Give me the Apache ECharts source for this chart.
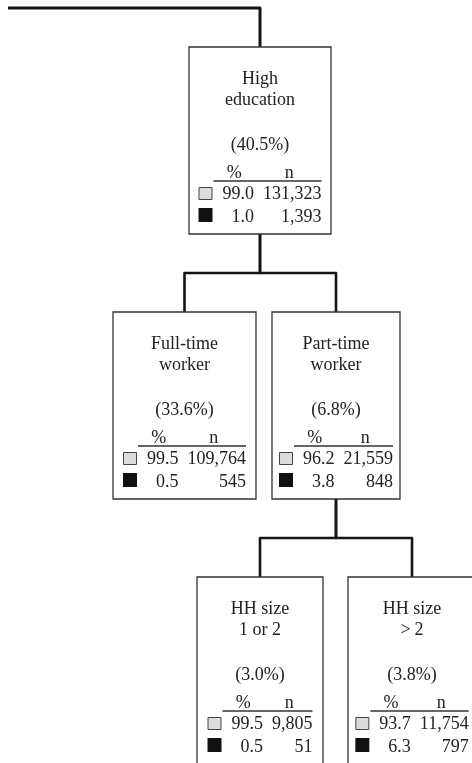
<!DOCTYPE html>
<html>
<head>
<meta charset="utf-8">
<script src="https://cdn.jsdelivr.net/npm/echarts@6/dist/echarts.min.js"></script>
<style>
  html, body { margin: 0; padding: 0; background: #fff; }
  #chart { width: 472px; height: 763px; }
</style>
</head>
<body>
<div id="chart"></div>
<script>
  // node contents
  const nodeTitles = [['High', 'education'], ['Full-time', 'worker'], ['Part-time', 'worker'], ['HH size', '1 or 2'], ['HH size', '>\u20092']];
  const nodeShares = [40.5, 33.6, 6.8, 3.0, 3.8];
  const pctNo = [99.0, 99.5, 96.2, 99.5, 93.7];
  const pctYes = [1.0, 0.5, 3.8, 0.5, 6.3];
  const nNo = [131323, 109764, 21559, 9805, 11754];
  const nYes = [1393, 545, 848, 51, 797];
  const parents = [-1, 0, 0, 2, 2];

  // layout in grid units (1 unit = 1px)
  const nodeX = [260, 184.5, 336, 260, 412];
  const nodeTop = [47, 312, 312, 577, 577];
  const nodeW = [142, 143, 128, 126, 128];
  const BOX_H = 187;
  const rootStart = [8, 8];

  const FONT = "18px 'Liberation Serif', 'DejaVu Serif', serif";
  const TXT = '#222';

  const ctx = document.createElement('canvas').getContext('2d');
  ctx.font = FONT;
  const measure = s => ctx.measureText(s).width;

  const fmtPct = v => v.toFixed(1);
  const fmtN = v => v.toLocaleString('en-US');

  function txt(text, x, y, align) {
    return {
      type: 'text',
      style: { text: text, x: x, y: y, font: FONT, fill: TXT, align: align || 'center', verticalAlign: 'middle' }
    };
  }

  function renderNode(params, api) {
    const i = api.value(2);
    const p = api.coord([api.value(0), api.value(1)]);
    const cx = p[0], top = p[1], w = nodeW[i];
    const els = [];
    els.push({
      type: 'rect',
      shape: { x: cx - w / 2, y: top, width: w, height: BOX_H },
      style: { fill: '#fff', stroke: '#333', lineWidth: 1.3 }
    });
    els.push(txt(nodeTitles[i][0], cx, top + 32));
    els.push(txt(nodeTitles[i][1], cx, top + 53));
    els.push(txt('(' + nodeShares[i].toFixed(1) + '%)', cx, top + 98));

    // little table: square | % | n
    const p0 = fmtPct(pctNo[i]), p1 = fmtPct(pctYes[i]);
    const n0 = fmtN(nNo[i]), n1 = fmtN(nYes[i]);
    const pw = Math.max(measure(p0), measure(p1));
    const nw = Math.max(measure(n0), measure(n1));
    const bw = 14 + 10 + pw + 9 + nw;
    const left = cx - bw / 2;
    const pRight = left + 24 + pw;
    const nRight = left + bw;

    els.push(txt('%', pRight - pw / 2 - 4, top + 126));
    els.push(txt('n', nRight - nw / 2 - 3, top + 126));
    els.push({
      type: 'line',
      shape: { x1: left + 15, y1: top + 134, x2: nRight, y2: top + 134 },
      style: { stroke: '#333', lineWidth: 1.3 }
    });
    els.push({
      type: 'rect',
      shape: { x: left + 0.5, y: top + 140.5, width: 13, height: 12 },
      style: { fill: '#dcdcdc', stroke: '#444', lineWidth: 1 }
    });
    els.push({
      type: 'rect',
      shape: { x: left, y: top + 161, width: 14, height: 14 },
      style: { fill: '#111' }
    });
    els.push(txt(p0, pRight, top + 147, 'right'));
    els.push(txt(n0, nRight, top + 147, 'right'));
    els.push(txt(p1, pRight, top + 170, 'right'));
    els.push(txt(n1, nRight, top + 170, 'right'));
    return { type: 'group', children: els };
  }

  function renderEdge(params, api) {
    const i = api.value(2);
    const par = parents[i];
    let pts;
    if (par < 0) {
      pts = [rootStart, [nodeX[i], rootStart[1]], [nodeX[i], nodeTop[i]]];
    } else {
      const yb = nodeTop[par] + BOX_H;
      const ym = (yb + nodeTop[i]) / 2;
      pts = [[nodeX[par], yb], [nodeX[par], ym], [nodeX[i], ym], [nodeX[i], nodeTop[i]]];
    }
    return {
      type: 'polyline',
      shape: { points: pts.map(q => api.coord(q)) },
      style: { stroke: '#151515', lineWidth: par < 0 ? 3 : 2.6, fill: null, lineJoin: 'round' }
    };
  }

  const nodeData = nodeX.map((x, i) => [x, nodeTop[i], i]);

  const chart = echarts.init(document.getElementById('chart'));
  chart.setOption({
    animation: false,
    grid: { left: 0, right: 0, top: 0, bottom: 0 },
    xAxis: { type: 'value', min: 0, max: 472, show: false },
    yAxis: { type: 'value', min: 0, max: 763, inverse: true, show: false },
    series: [
      { type: 'custom', renderItem: renderEdge, data: nodeData, z: 1, clip: false },
      { type: 'custom', renderItem: renderNode, data: nodeData, z: 2, clip: false }
    ]
  });
</script>
</body>
</html>
